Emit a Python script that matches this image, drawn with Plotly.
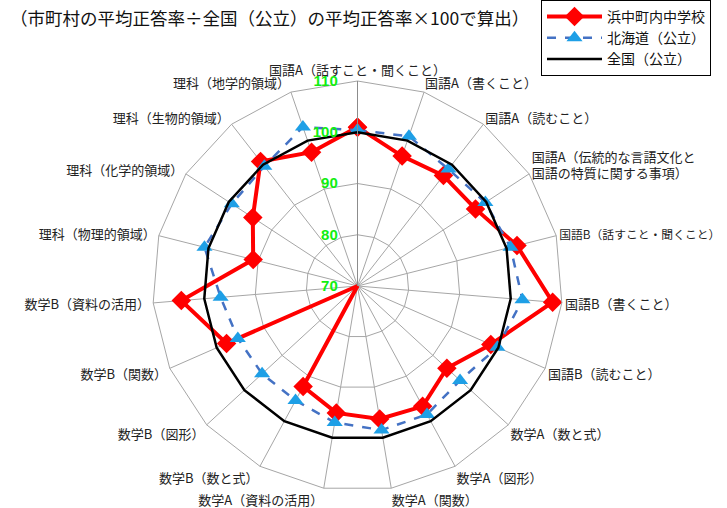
import plotly.graph_objects as go

categories = [
    "国語A（話すこと・聞くこと）",
    "国語A（書くこと）",
    "国語A（読むこと）",
    "国語A（伝統的な言語文化と<br>国語の特質に関する事項）",
    "<span style='font-size:11.8px'>国語B（話すこと・聞くこと）</span>",
    "国語B（書くこと）",
    "国語B（読むこと）",
    "数学A（数と式）",
    "数学A（図形）",
    "数学A（関数）",
    "数学A（資料の活用）",
    "数学B（数と式）",
    "数学B（図形）",
    "数学B（関数）",
    "数学B（資料の活用）",
    "理科（物理的領域）",
    "理科（化学的領域）",
    "理科（生物的領域）",
    "理科（地学的領域）",
]
hamanaka = [101.0, 96.8, 97.3, 97.5, 102.1, 108.2, 98.4, 93.7, 96.7, 96.3,
            95.1, 92.3, 70.0, 97.9, 104.5, 91.0, 94.4, 100.8, 97.6]
hokkaido = [100.4, 100.9, 98.9, 99.8, 100.8, 102.3, 99.8, 97.2, 98.5, 98.5,
            97.0, 95.4, 95.3, 95.5, 96.8, 100.8, 99.3, 99.6, 102.8]
zenkoku = [100.0] * 19
radial_ticks = [70, 80, 90, 100, 110]

theta_c = categories + [categories[0]]

def close(v):
    return list(v) + [v[0]]

fig = go.Figure()
fig.add_trace(go.Scatterpolar(
    r=close(hamanaka), theta=theta_c, mode="lines+markers", name="浜中町内中学校",
    line=dict(color="#ff0000", width=4),
    marker=dict(symbol="diamond", size=15, color="#ff0000"),
))
fig.add_trace(go.Scatterpolar(
    r=close(hokkaido), theta=theta_c, mode="lines+markers", name="北海道（公立）",
    line=dict(color="#4472c4", width=2.5, dash="dash"),
    marker=dict(symbol="triangle-up", size=14, color="#1e9fe6"),
))
fig.add_trace(go.Scatterpolar(
    r=close(zenkoku), theta=theta_c, mode="lines", name="全国（公立）",
    line=dict(color="#000000", width=2.5),
))

cx, cy, R = 357.5, 286, 205
W, H = 727, 508
fig.update_layout(
    width=W, height=H,
    margin=dict(l=0, r=0, t=0, b=0),
    paper_bgcolor="white",
    font=dict(family="Noto Sans CJK JP", size=13, color="#222"),
    polar=dict(
        domain=dict(x=[(cx - R) / W, (cx + R) / W], y=[1 - (cy + R) / H, 1 - (cy - R) / H]),
        bgcolor="white",
        gridshape="linear",
        angularaxis=dict(
            type="category",
            categoryorder="array", categoryarray=categories,
            rotation=90, direction="clockwise",
            showline=True, linecolor="#a6a6a6", linewidth=1,
            gridcolor="#a6a6a6", gridwidth=1,
            ticks="", tickfont=dict(size=13, color="#222"),
        ),
        radialaxis=dict(
            range=[70, 110], tickvals=radial_ticks,
            angle=90, tickangle=90, side="counterclockwise",
            ticks="outside", ticklen=14, tickcolor="rgba(0,0,0,0)",
            showline=True, linecolor="#8c8c8c", linewidth=1,
            gridcolor="#a6a6a6", gridwidth=1,
            tickfont=dict(size=15, color="#11ee11", family="Liberation Sans", weight="bold"),
        ),
    ),
    legend=dict(
        x=541 / W, y=1, xanchor="left", yanchor="top",
        bordercolor="black", borderwidth=1, bgcolor="white",
        font=dict(size=14, color="#111"),
        itemwidth=55, tracegroupgap=0,
    ),
    showlegend=True,
    annotations=[dict(
        text="（市町村の平均正答率÷全国（公立）の平均正答率×100で算出）",
        x=8 / W, y=1 - 17 / H, xref="paper", yref="paper",
        xanchor="left", yanchor="middle", showarrow=False,
        font=dict(size=17.5, color="#111"),
    )],
)
fig.write_html("out.html")
